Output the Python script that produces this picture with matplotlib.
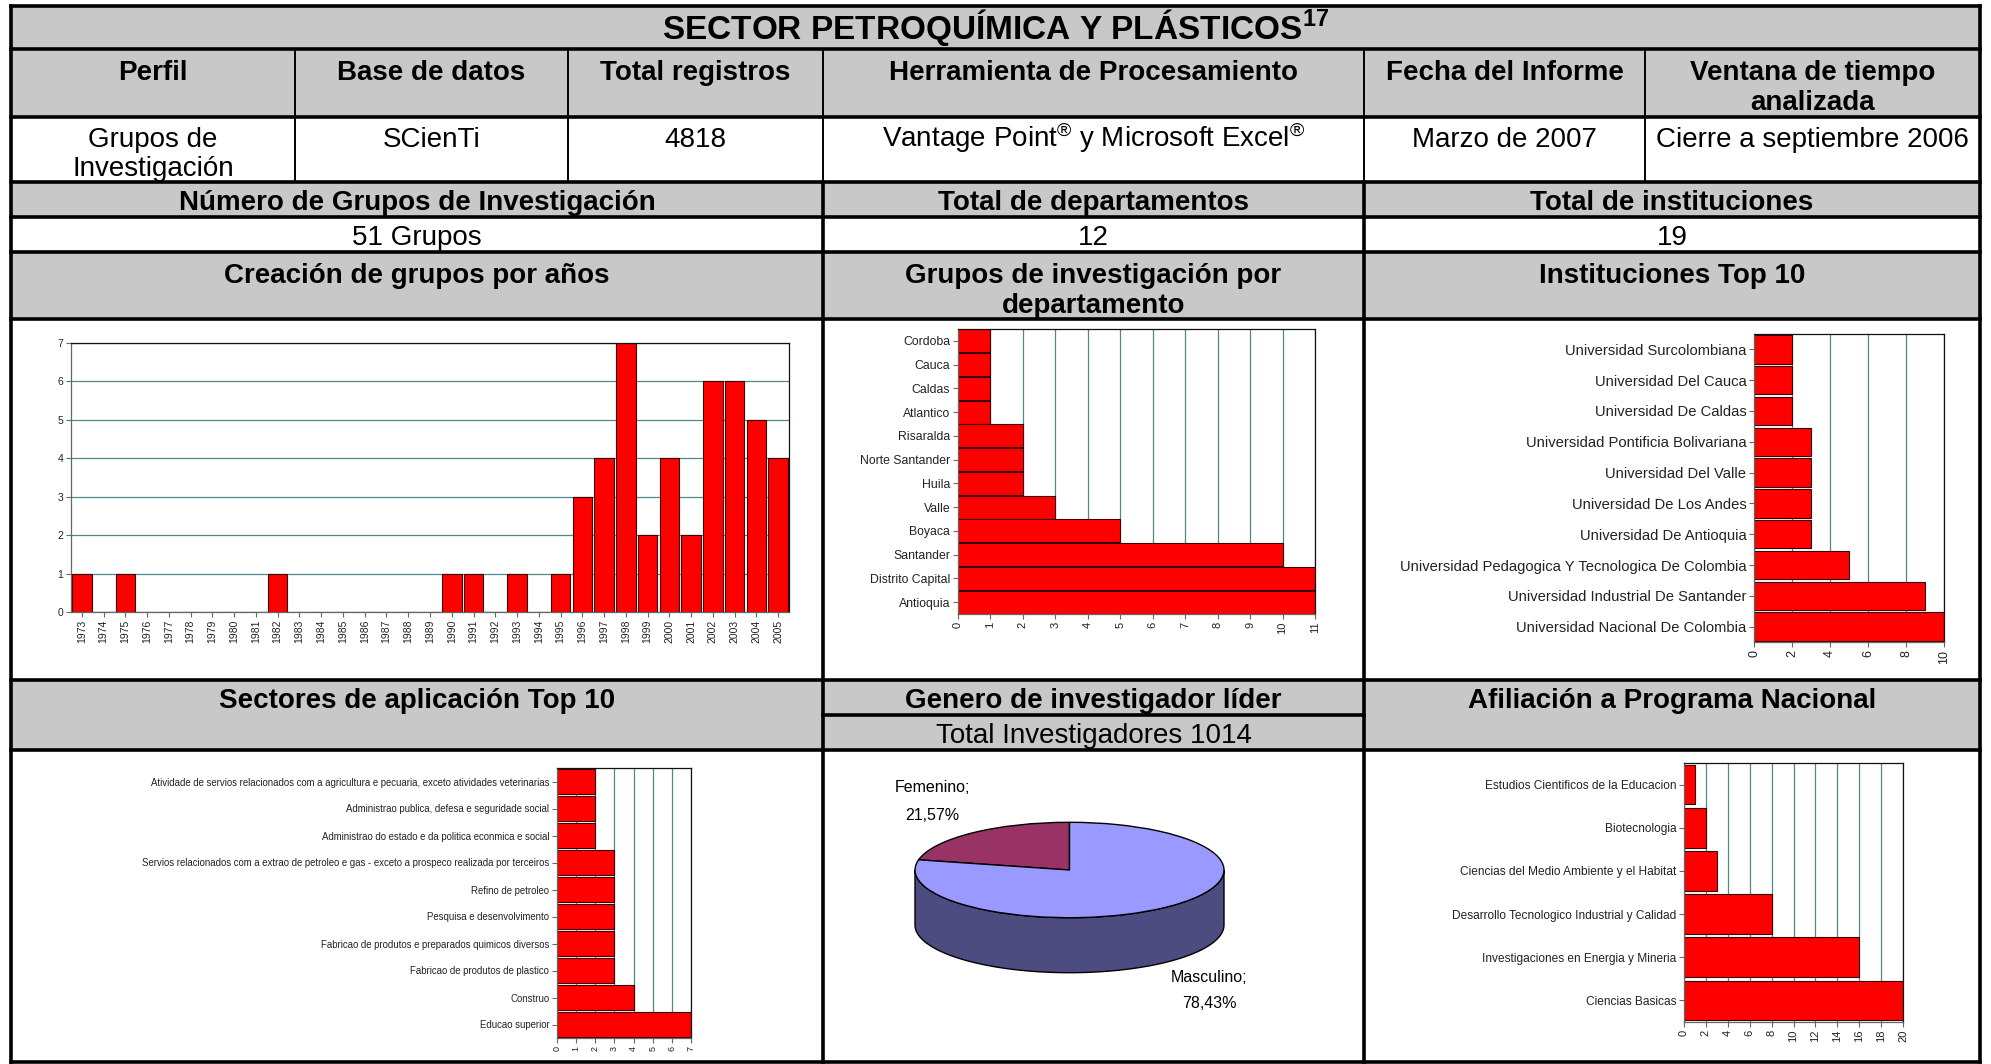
import matplotlib
matplotlib.use('Agg')
import matplotlib.pyplot as plt
from matplotlib.patches import Rectangle, Polygon
import numpy as np

plt.rcParams['font.family'] = ['Liberation Sans', 'DejaVu Sans']
plt.rcParams['mathtext.fontset'] = 'custom'
plt.rcParams['mathtext.rm'] = 'Liberation Sans'
plt.rcParams['mathtext.bf'] = 'Liberation Sans:bold'
plt.rcParams['mathtext.it'] = 'Liberation Sans:italic'

# ---------------- data ----------------
title_text = 'SECTOR PETROQUÍMICA Y PLÁSTICOS'
title_note = '17'
header_labels = ['Perfil', 'Base de datos', 'Total registros', 'Herramienta de Procesamiento',
                 'Fecha del Informe', 'Ventana de tiempo\nanalizada']
header_values = ['Grupos de\nInvestigación', 'SCienTi', '4818',
                 r'Vantage Point$^{\mathrm{®}}$ y Microsoft Excel$^{\mathrm{®}}$',
                 'Marzo de 2007', 'Cierre a septiembre 2006']
summary_labels = ['Número de Grupos de Investigación', 'Total de departamentos', 'Total de instituciones']
summary_values = ['51 Grupos', '12', '19']
chart_titles_1 = ['Creación de grupos por años', 'Grupos de investigación por\ndepartamento', 'Instituciones Top 10']
chart_titles_2 = ['Sectores de aplicación Top 10', 'Genero de investigador líder', 'Afiliación a Programa Nacional']
total_investigadores = 'Total Investigadores 1014'

years = [str(y) for y in range(1973, 2006)]
year_counts = [1, 0, 1, 0, 0, 0, 0, 0, 0, 1, 0, 0, 0, 0, 0, 0, 0, 1, 1, 0, 1, 0, 1,
               3, 4, 7, 2, 4, 2, 6, 6, 5, 4]

dept_names = ['Cordoba', 'Cauca', 'Caldas', 'Atlantico', 'Risaralda', 'Norte Santander',
              'Huila', 'Valle', 'Boyaca', 'Santander', 'Distrito Capital', 'Antioquia']
dept_counts = [1, 1, 1, 1, 2, 2, 2, 3, 5, 10, 11, 11]

inst_names = ['Universidad Surcolombiana', 'Universidad Del Cauca', 'Universidad De Caldas',
              'Universidad Pontificia Bolivariana', 'Universidad Del Valle',
              'Universidad De Los Andes', 'Universidad De Antioquia',
              'Universidad Pedagogica Y Tecnologica De Colombia',
              'Universidad Industrial De Santander', 'Universidad Nacional De Colombia']
inst_counts = [2, 2, 2, 3, 3, 3, 3, 5, 9, 10]

sector_names = ['Atividade de servios relacionados com a agricultura e pecuaria, exceto atividades veterinarias',
                'Administrao publica, defesa e seguridade social',
                'Administrao do estado e da politica econmica e social',
                'Servios relacionados com a extrao de petroleo e gas - exceto a prospeco realizada por terceiros',
                'Refino de petroleo', 'Pesquisa e desenvolvimento',
                'Fabricao de produtos e preparados quimicos diversos',
                'Fabricao de produtos de plastico', 'Construo', 'Educao superior']
sector_counts = [2, 2, 2, 3, 3, 3, 3, 3, 4, 7]

prog_names = ['Estudios Cientificos de la Educacion', 'Biotecnologia',
              'Ciencias del Medio Ambiente y el Habitat',
              'Desarrollo Tecnologico Industrial y Calidad',
              'Investigaciones en Energia y Mineria', 'Ciencias Basicas']
prog_counts = [1, 2, 3, 8, 16, 20]

gender_labels = ['Femenino', 'Masculino']
gender_pct = [21.57, 78.43]

# ---------------- figure ----------------
W, H = 1991, 1064
fig = plt.figure(figsize=(W / 100, H / 100), dpi=100)
bg = fig.add_axes([0, 0, 1, 1])
bg.set_xlim(0, W)
bg.set_ylim(H, 0)
bg.axis('off')

GRAY = '#c8c8c8'
L, R = 11, 1980
TOP, BOT = 6, 1062
cols = [L, 295, 568, 823, 1364, 1645, R]
sec = [L, 823, 1364, R]

for (y0, y1) in [(TOP, 49), (49, 117), (182, 217), (252, 319), (680, 750)]:
    bg.add_patch(Rectangle((L, y0), R - L, y1 - y0, fc=GRAY, ec='none', zorder=0))

THICK, THIN = 2.6, 1.4
for y in [TOP, 49, 117, 182, 217, 252, 319, 680, 750, BOT]:
    bg.plot([L, R], [y, y], color='black', lw=THICK, solid_capstyle='projecting', zorder=3)
bg.plot([sec[1], sec[2]], [715, 715], color='black', lw=THICK, zorder=3)
for x in [L, R]:
    bg.plot([x, x], [TOP, BOT], color='black', lw=THICK, solid_capstyle='projecting', zorder=3)
for x in cols[1:-1]:
    bg.plot([x, x], [49, 182], color='black', lw=THIN, zorder=3)
for x in sec[1:-1]:
    bg.plot([x, x], [182, BOT], color='black', lw=THICK, zorder=3)


def put_lines(x, y, s, dy, **kw):
    for i, line in enumerate(s.split('\n')):
        bg.text(x, y + i * dy, line, ha='center', va='baseline', zorder=4, **kw)


FS = 20
bg.text((L + R) / 2, 39, title_text + r'$^{\mathbf{' + title_note + '}}$', ha='center',
        va='baseline', fontsize=24, fontweight='bold', zorder=4)
for i, lab in enumerate(header_labels):
    cx = (cols[i] + cols[i + 1]) / 2
    put_lines(cx, 80, lab, 30, fontsize=FS, fontweight='bold')
for i, val in enumerate(header_values):
    cx = (cols[i] + cols[i + 1]) / 2
    put_lines(cx, 147, val, 29, fontsize=FS)
for i in range(3):
    cx = (sec[i] + sec[i + 1]) / 2
    put_lines(cx, 210, summary_labels[i], 30, fontsize=FS, fontweight='bold')
    put_lines(cx, 245, summary_values[i], 30, fontsize=FS)
    put_lines(cx, 283, chart_titles_1[i], 30, fontsize=FS, fontweight='bold')
    put_lines(cx, 708, chart_titles_2[i], 30, fontsize=FS, fontweight='bold')
put_lines((sec[1] + sec[2]) / 2, 743, total_investigadores, 30, fontsize=FS)


def add_ax(x0, y0, x1, y1):
    return fig.add_axes([x0 / W, 1 - y1 / H, (x1 - x0) / W, (y1 - y0) / H])


RED = '#ff0000'
EDGE = '#3a0000'
GRID = '#4f8a8b'


def style(ax, grid_axis):
    for s in ['top', 'right']:
        ax.spines[s].set_color('#111111')
    for s in ['left', 'bottom']:
        ax.spines[s].set_color('#666666')
    for s in ax.spines.values():
        s.set_linewidth(0.9)
    ax.grid(axis=grid_axis, color=GRID, lw=0.9)
    ax.set_axisbelow(True)
    ax.tick_params(color='#666666', labelcolor='#222222', length=3.5, width=0.8, pad=2)


# chart 1: years
ax1 = add_ax(71, 343, 789, 612)
x = np.arange(len(years))
ax1.bar(x, year_counts, width=0.9, color=RED, edgecolor=EDGE, lw=0.8)
ax1.set_xlim(-0.5, len(years) - 0.5)
ax1.set_ylim(0, 7)
ax1.set_yticks(range(0, 8))
ax1.set_yticklabels([str(v) for v in range(0, 8)], fontsize=7.5)
ax1.set_xticks(x)
ax1.set_xticklabels(years, rotation=90, fontsize=7.5)
style(ax1, 'y')


def hbar(box, names, vals, xmax, step, fs_lab, fs_tick, height):
    ax = add_ax(*box)
    y = np.arange(len(names))
    ax.barh(y, vals, height=height, color=RED, edgecolor=EDGE, lw=0.8)
    ax.set_ylim(len(names) - 0.5, -0.5)
    ax.set_yticks(y)
    ax.set_yticklabels(names, fontsize=fs_lab)
    ax.set_xlim(0, xmax)
    ticks = list(range(0, xmax + 1, step))
    ax.set_xticks(ticks)
    ax.set_xticklabels([str(t) for t in ticks], rotation=90, fontsize=fs_tick)
    style(ax, 'x')
    return ax


hbar((958, 329, 1315, 614), dept_names, dept_counts, 11, 1, 8.8, 8, 0.96)
hbar((1754, 334, 1944, 642), inst_names, inst_counts, 10, 2, 10.6, 9, 0.92)
hbar((557, 768, 691, 1038), sector_names, sector_counts, 7, 1, 6.9, 6.5, 0.92)
hbar((1684, 763, 1903, 1022), prog_names, prog_counts, 20, 2, 8.6, 8, 0.92)

# pie (3D look)
px0, py0, px1, py1 = 900, 800, 1240, 1000
cx, cy, rx, ry, depth = 1069.5, 870.0, 154.5, 47.7, 55.0
axp = add_ax(px0, py0, px1, py1)
d = depth / ry
th = np.linspace(np.pi, 2 * np.pi, 120)
side = np.concatenate([np.c_[np.cos(th), np.sin(th)],
                       np.c_[np.cos(th[::-1]), np.sin(th[::-1]) - d]])
axp.add_patch(Polygon(side, closed=True, fc='#4c4c80', ec='black', lw=1, zorder=1))
wedges, _ = axp.pie(gender_pct, colors=['#993366', '#9999ff'], startangle=90,
                    counterclock=True, wedgeprops=dict(edgecolor='black', linewidth=1))
for w in wedges:
    w.set_zorder(2)
axp.set_aspect('auto')
axp.set_xlim((px0 - cx) / rx, (px1 - cx) / rx)
axp.set_ylim((cy - py1) / ry, (cy - py0) / ry)
axp.axis('off')

label_pos = [(932, 788), (1209, 977)]
for (lx, ly), name, pct in zip(label_pos, gender_labels, gender_pct):
    bg.text(lx, ly, name + ';', ha='center', va='center', fontsize=11.5, zorder=4)
    bg.text(lx, ly + 27, f'{pct:.2f}%'.replace('.', ','), ha='center', va='center',
            fontsize=11.5, zorder=4)

fig.savefig('out.png', dpi=100)
